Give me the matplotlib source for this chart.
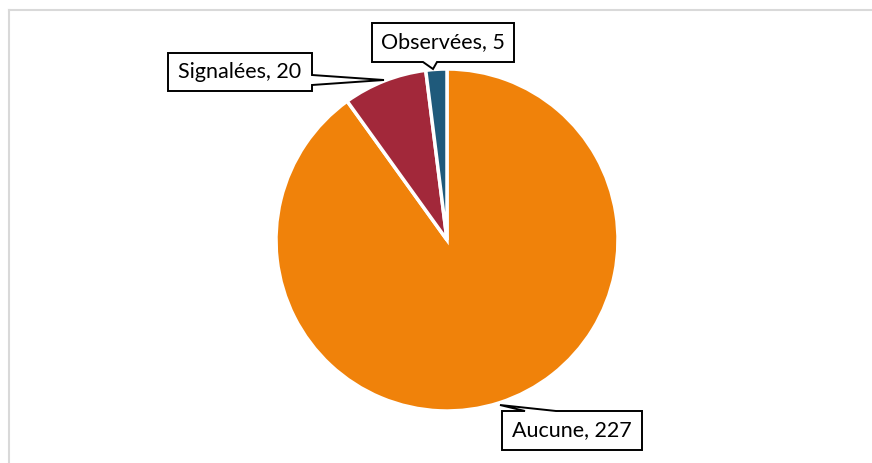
import matplotlib
matplotlib.use("Agg")
import matplotlib.pyplot as plt
from matplotlib.lines import Line2D
from matplotlib.patches import Polygon

labels = ["Aucune", "Signalées", "Observées"]
values = [227, 20, 5]
colors = ["#F0820A", "#A2283A", "#1F5A7B"]

W, H = 872, 463
fig = plt.figure(figsize=(W / 100, H / 100), dpi=100)
ax = fig.add_axes([0, 0, 1, 1])

cx, cy, r = 447, H - 240, 171
ax.pie(values, colors=colors, startangle=90, counterclock=False,
       center=(cx, cy), radius=r, frame=True,
       wedgeprops=dict(edgecolor="white", linewidth=2.5))
ax.set_xlim(0, W)
ax.set_ylim(0, H)
ax.set_aspect("equal")
ax.axis("off")

# chart border (left and top)
fig.add_artist(Line2D([8.5 / W, 8.5 / W], [0, 1 - 9.5 / H], color="#D9D9D9", lw=1.5))
fig.add_artist(Line2D([8.5 / W, 1], [1 - 9.5 / H, 1 - 9.5 / H], color="#D9D9D9", lw=1.5))


def callout(text, box, side, base, tip):
    """box=(x0,y0,x1,y1) in pixel coords (y down); side in 'top','bottom','right';
    base=(a,b) along that side; tip=(x,y)."""
    x0, y0, x1, y1 = box
    a, b = base
    if side == "bottom":
        pts = [(x0, y0), (x1, y0), (x1, y1), (b, y1), tip, (a, y1), (x0, y1)]
    elif side == "top":
        pts = [(x0, y0), (a, y0), tip, (b, y0), (x1, y0), (x1, y1), (x0, y1)]
    else:  # right
        pts = [(x0, y0), (x1, y0), (x1, a), tip, (x1, b), (x1, y1), (x0, y1)]
    pts = [(px, H - py) for px, py in pts]
    ax.add_patch(Polygon(pts, closed=True, fc="white", ec="black", lw=1.4,
                         joinstyle="miter", zorder=5))
    ax.text((x0 + x1) / 2, H - (y0 + y1) / 2, text, ha="center", va="center",
            family=["Lato", "DejaVu Sans"], size=15.5, color="black", zorder=6)


callout(f"{labels[0]}, {values[0]}", (502, 411, 642, 450), "top", (525, 556), (500, 405))
callout(f"{labels[1]}, {values[1]}", (168, 53, 312, 91), "right", (75, 85), (384, 80))
callout(f"{labels[2]}, {values[2]}", (372, 23, 514, 62), "bottom", (423, 437), (433, 69))

fig.savefig("out.png", dpi=100)
